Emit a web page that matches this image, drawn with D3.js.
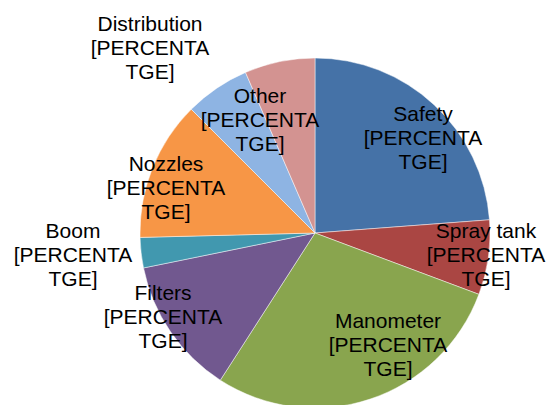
<!DOCTYPE html>
<html>
<head>
<meta charset="utf-8">
<script src="https://cdn.jsdelivr.net/npm/d3@7"></script>
<style>
  html, body { margin: 0; padding: 0; background: #fff; overflow: hidden; }
  svg { display: block; }
  .lbl { font-family: "Liberation Sans", Arial, sans-serif; font-size: 21px; fill: #000; }
</style>
</head>
<body>
<script>
// parts of the sprayer, clockwise from 12 o'clock
var categories = ["Safety", "Spray tank", "Manometer", "Filters", "Boom", "Nozzles", "Distribution", "Other"];
var shares = [23.8, 6.9, 28.4, 12.7, 2.8, 12.9, 6.0, 6.5];
var labelValue = "[PERCENTA TGE]";

var colors = ["#4572A7", "#AA4643", "#89A54E", "#71588F", "#4198AF", "#F79646", "#8EB4E3", "#D39391"];

// where excel put each label (offset of the middle line from the pie centre)
var labelOffsets = [
    [108, -96], [171, 21], [73, 111], [-152, 83],
    [-242, 21], [-149, -46], [-165, -186], [-55, -114]
];

var width = 548, height = 405,
    cx = 315, cy = 233, radius = 175;

var svg = d3.select("body").append("svg")
    .attr("width", width)
    .attr("height", height);

var g = svg.append("g")
    .attr("transform", "translate(" + cx + "," + cy + ")");

var pie = d3.pie().sort(null).value(function(d){ return d; });
var arc = d3.arc().innerRadius(0).outerRadius(radius);

var arcs = pie(shares);

g.selectAll(".slice")
    .data(arcs)
    .enter()
    .append("path")
    .attr("class", "slice")
    .attr("d", arc)
    .style("fill", function(d, i){ return colors[i]; })
    .style("stroke", "rgba(255,255,255,0.6)")
    .style("stroke-width", 0.8);

var labels = g.selectAll(".lbl")
    .data(arcs)
    .enter()
    .append("text")
    .attr("class", "lbl")
    .attr("text-anchor", "middle")
    .attr("transform", function(d, i){
        return "translate(" + labelOffsets[i][0] + "," + labelOffsets[i][1] + ")";
    });

labels.each(function(d, i){
    var t = d3.select(this);
    var parts = labelValue.split(" ");
    var lines = [categories[i], parts[0], parts[1]];
    lines.forEach(function(s, k){
        t.append("tspan")
            .attr("x", 0)
            .attr("y", (k - 1) * 24 + 7.5)
            .text(s);
    });
});
</script>
</body>
</html>
